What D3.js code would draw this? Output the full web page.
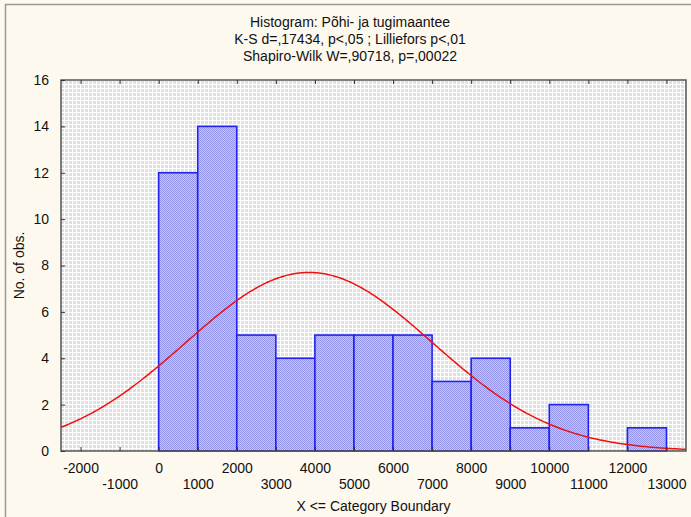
<!DOCTYPE html>
<html><head><meta charset="utf-8">
<script src="https://cdn.jsdelivr.net/npm/d3@7"></script>
<style>body{margin:0;background:#fef9ee;}svg{display:block;font-family:"Liberation Sans",Arial,sans-serif;}</style>
</head><body>
<script>
const titleLines = ["Histogram: Põhi- ja tugimaantee", "K-S d=,17434, p<,05 ; Lilliefors p<,01", "Shapiro-Wilk W=,90718, p=,00022"];
const binStarts = [0,1000,2000,3000,4000,5000,6000,7000,8000,9000,10000,11000,12000];
const binWidth = 1000;
const counts = [12,14,5,4,5,5,5,3,4,1,2,0,1];
const xTicks = [-2000,-1000,0,1000,2000,3000,4000,5000,6000,7000,8000,9000,10000,11000,12000,13000];
const yTicks = [0,2,4,6,8,10,12,14,16];
const normalMean = 3850, normalSd = 3160, nObs = 61;
const xTitle = "X <= Category Boundary", yTitle = "No. of obs.";

const W = 691, H = 517;
const m = {l:61, r:5, t:80, b:66};
const svg = d3.select("body").append("svg").attr("width",W).attr("height",H);
svg.append("rect").attr("width",W).attr("height",H).attr("fill","#fef9ee");
svg.append("path").attr("d",`M5.5,${H}V4.5H${W}`).attr("fill","none").attr("stroke","#9a9a9a").attr("stroke-width",1.5);

const defs = svg.append("defs");
const pg = defs.append("pattern").attr("id","bg").attr("width",4).attr("height",4).attr("patternUnits","userSpaceOnUse");
pg.append("rect").attr("width",4).attr("height",4).attr("fill","#e0e0e0");
pg.append("rect").attr("width",4).attr("height",1).attr("fill","#ffffff");
pg.append("rect").attr("width",1).attr("height",4).attr("fill","#ffffff");
const pb = defs.append("pattern").attr("id","bar").attr("width",2).attr("height",2).attr("patternUnits","userSpaceOnUse");
pb.append("rect").attr("width",2).attr("height",2).attr("fill","#c4c4f6");
pb.append("rect").attr("width",1).attr("height",1).attr("fill","#9494ea");
pb.append("rect").attr("x",1).attr("y",1).attr("width",1).attr("height",1).attr("fill","#9494ea");

const x = d3.scaleLinear().domain([-2500,13500]).range([m.l, W-m.r]);
const y = d3.scaleLinear().domain([0,16]).range([H-m.b, m.t]);
const pw = W-m.r-m.l, ph = H-m.b-m.t;

svg.append("rect").attr("x",m.l).attr("y",m.t).attr("width",pw).attr("height",ph).attr("fill","url(#bg)");

// titles
svg.append("g").selectAll("text").data(titleLines).join("text")
  .attr("x",350).attr("y",(d,i)=>27+i*17).attr("text-anchor","middle")
  .attr("font-size",14).attr("fill","#111").text(d=>d);

// bars
svg.append("g").selectAll("rect").data(binStarts.map((s,i)=>({s,c:counts[i]})).filter(d=>d.c>0)).join("rect")
  .attr("x",d=>x(d.s)).attr("width",d=>x(d.s+binWidth)-x(d.s))
  .attr("y",d=>y(d.c)).attr("height",d=>y(0)-y(d.c))
  .attr("fill","url(#bar)").attr("stroke","#2222ee").attr("stroke-width",1.6);

// normal curve
const pdf = v => nObs*binWidth/(normalSd*Math.sqrt(2*Math.PI))*Math.exp(-0.5*((v-normalMean)/normalSd)**2);
const xs = d3.range(-2500, 13501, 50);
svg.append("path").datum(xs).attr("fill","none").attr("stroke","#ee1111").attr("stroke-width",1.5)
  .attr("d", d3.line().x(d=>x(d)).y(d=>y(pdf(d))));

// frame
svg.append("rect").attr("x",m.l).attr("y",m.t).attr("width",pw).attr("height",ph)
  .attr("fill","none").attr("stroke","#555").attr("stroke-width",1.5);

// axes
const gx = svg.append("g").attr("transform",`translate(0,${y(0)})`)
  .call(d3.axisBottom(x).tickValues(xTicks).tickSize(-4).tickPadding(0).tickFormat(""));
gx.select(".domain").remove();
gx.selectAll(".tick line").attr("stroke","#333");
gx.selectAll(".tick").append("text").attr("fill","#111").attr("font-size",14).attr("text-anchor","middle")
  .attr("y",(d,i)=>i%2===0?22:38).text(d=>d);
const gxt = svg.append("g").attr("transform",`translate(0,${m.t})`)
  .call(d3.axisTop(x).tickValues(xTicks).tickSize(-4).tickFormat(""));
gxt.select(".domain").remove();
gxt.selectAll(".tick line").attr("stroke","#333");

const gy = svg.append("g").attr("transform",`translate(${m.l},0)`)
  .call(d3.axisLeft(y).tickValues(yTicks).tickSize(-4).tickPadding(12));
gy.select(".domain").remove();
gy.selectAll(".tick line").attr("stroke","#333");
gy.selectAll(".tick text").attr("font-size",14).attr("fill","#111").attr("font-family","Liberation Sans, Arial, sans-serif");

svg.append("text").attr("x",(m.l+W-m.r)/2).attr("y",511).attr("text-anchor","middle")
  .attr("font-size",14).attr("fill","#111").text(xTitle);
svg.append("text").attr("transform",`translate(24,${(m.t+H-m.b)/2}) rotate(-90)`).attr("text-anchor","middle")
  .attr("font-size",14).attr("fill","#111").text(yTitle);
</script>
</body></html>
